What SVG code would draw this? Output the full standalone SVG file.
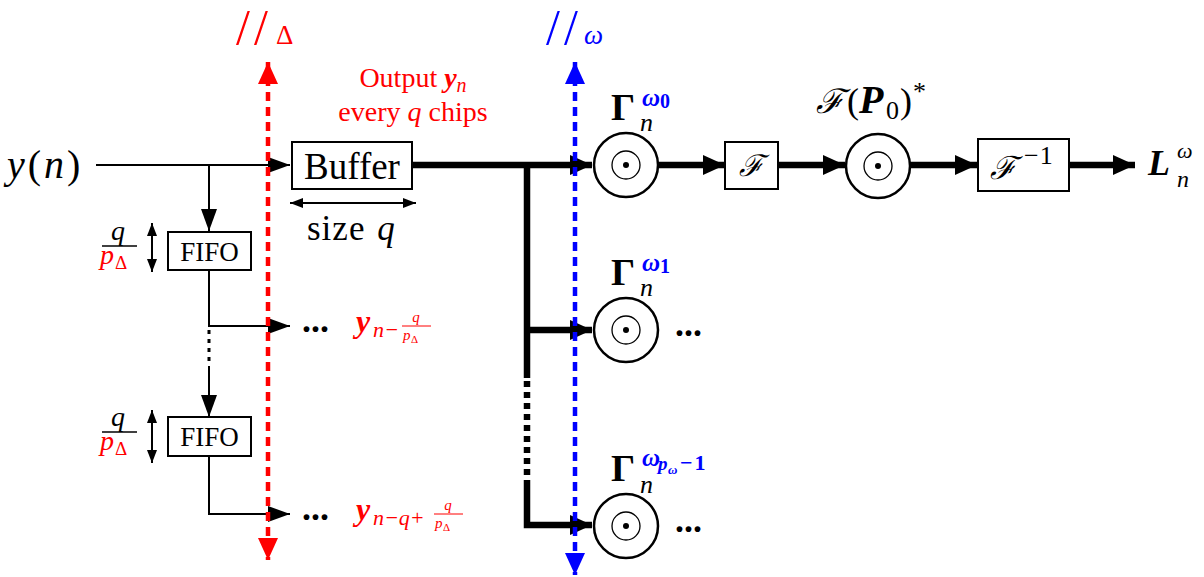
<svg xmlns="http://www.w3.org/2000/svg" width="1204" height="577" viewBox="0 0 1204 577">
<style>
.t{font-family:"Liberation Serif","DejaVu Serif",serif;fill:#000}
.i{font-style:italic}
.b{font-weight:bold}
.r{fill:#ff0000}
.bl{fill:#0000ff}
.box{fill:#fff;stroke:#000;stroke-width:2}
.thin{fill:none;stroke:#000;stroke-width:2}
.thick{fill:none;stroke:#000;stroke-width:6.5}
.circ{fill:#fff;stroke:#000;stroke-width:2.5}
.dots{font-family:"Liberation Serif",serif;font-weight:bold;font-size:36px;fill:#000}
</style>
<defs>
<marker id="at" markerUnits="userSpaceOnUse" markerWidth="22" markerHeight="16" refX="22" refY="8" orient="auto"><path d="M0,0 L22,8 L0,16 z" fill="#000"/></marker>
<marker id="aT" markerUnits="userSpaceOnUse" markerWidth="22" markerHeight="20" refX="22" refY="10" orient="auto"><path d="M0,0 L22,10 L0,20 z" fill="#000"/></marker>
<marker id="as" markerUnits="userSpaceOnUse" markerWidth="13" markerHeight="10" refX="13" refY="5" orient="auto-start-reverse"><path d="M0,0 L13,5 L0,10 z" fill="#000"/></marker>
<marker id="ar" markerUnits="userSpaceOnUse" markerWidth="22" markerHeight="20" refX="22" refY="10" orient="auto-start-reverse"><path d="M0,0 L22,10 L0,20 z" fill="#ff0000"/></marker>
<marker id="ab" markerUnits="userSpaceOnUse" markerWidth="22" markerHeight="20" refX="22" refY="10" orient="auto-start-reverse"><path d="M0,0 L22,10 L0,20 z" fill="#0000ff"/></marker>
</defs>

<g id="input"><text class="t" x="7" y="178" font-size="40" letter-spacing="3"><tspan class="i">y</tspan>(<tspan class="i">n</tspan>)</text></g>

<g id="connectors">
<path class="thin" d="M96,165 H290" marker-end="url(#at)"/>
<path class="thin" d="M209,165 V231" marker-end="url(#at)"/>
<path class="thin" d="M209,270 V326 H290" marker-end="url(#at)"/>
<path d="M209,330 V366" fill="none" stroke="#000" stroke-width="3" stroke-dasharray="4,5"/>
<path class="thin" d="M209,366 V417" marker-end="url(#at)"/>
<path class="thin" d="M209,456 V514 H290" marker-end="url(#at)"/>
<path class="thin" d="M290,203 H416" marker-start="url(#as)" marker-end="url(#as)"/>
<path class="thin" d="M152,223 V272" marker-start="url(#as)" marker-end="url(#as)"/>
<path class="thin" d="M152,410 V463" marker-start="url(#as)" marker-end="url(#as)"/>
<path class="thick" d="M412,165 H592" marker-end="url(#aT)"/>
<path class="thick" d="M527,165 V378"/>
<path class="thick" d="M527,330 H592" marker-end="url(#aT)"/>
<path d="M527,381 V480" fill="none" stroke="#000" stroke-width="6.5" stroke-dasharray="6,5"/>
<path class="thick" d="M527,480 V525 H592" marker-end="url(#aT)"/>
<path class="thick" d="M658,165 H725" marker-end="url(#aT)"/>
<path class="thick" d="M778,165 H845" marker-end="url(#aT)"/>
<path class="thick" d="M910,165 H977" marker-end="url(#aT)"/>
<path class="thick" d="M1069,165 H1135" marker-end="url(#aT)"/>
</g>

<g id="buffer"><rect class="box" x="292" y="142" width="120" height="47"/><text class="t" x="352" y="179" font-size="37" text-anchor="middle">Buffer</text></g>
<g id="size"><text class="t" x="307" y="240" font-size="35" letter-spacing="1" word-spacing="2">size <tspan class="i">q</tspan></text></g>
<g id="output-label"><text class="t r" x="413" y="87" font-size="28" text-anchor="middle">Output <tspan class="b i">y</tspan><tspan class="i" font-size="20" dy="5">n</tspan></text><text class="t r" x="413" y="121" font-size="28" text-anchor="middle">every <tspan class="i">q</tspan> chips</text></g>

<g id="fifo1"><rect class="box" x="168" y="232" width="83" height="38"/><text class="t" x="209.5" y="261" font-size="27" text-anchor="middle">FIFO</text></g>
<g id="fifo2"><rect class="box" x="168" y="417" width="83" height="39"/><text class="t" x="209.5" y="446" font-size="27" text-anchor="middle">FIFO</text></g>

<g id="frac1"><text class="t i" x="118" y="240" font-size="28" text-anchor="middle">q</text><line x1="102" y1="246" x2="137" y2="246" stroke="#000" stroke-width="1.5"/><text class="t i r" x="100" y="264" font-size="28">p</text><text class="t r" x="115" y="269" font-size="19">Δ</text></g>
<g id="frac2"><text class="t i" x="118" y="426" font-size="28" text-anchor="middle">q</text><line x1="102" y1="432" x2="137" y2="432" stroke="#000" stroke-width="1.5"/><text class="t i r" x="100" y="450" font-size="28">p</text><text class="t r" x="115" y="455" font-size="19">Δ</text></g>

<g id="out1"><text class="dots" x="302" y="332">...</text><text class="t b i r" x="356" y="332" font-size="32">y</text><text class="t i r" x="373" y="337" font-size="22">n−</text><text class="t i r" x="416" y="322" font-size="15" text-anchor="middle">q</text><line x1="402" y1="326" x2="431" y2="326" stroke="#ff0000" stroke-width="1"/><text class="t i r" x="403" y="340" font-size="15">p</text><text class="t r" x="411" y="343" font-size="11">Δ</text></g>
<g id="out2"><text class="dots" x="302" y="520">...</text><text class="t b i r" x="356" y="520" font-size="32">y</text><text class="t i r" x="373" y="525" font-size="22">n−q+</text><text class="t i r" x="448" y="510" font-size="15" text-anchor="middle">q</text><line x1="434" y1="514" x2="463" y2="514" stroke="#ff0000" stroke-width="1"/><text class="t i r" x="435" y="528" font-size="15">p</text><text class="t r" x="443" y="531" font-size="11">Δ</text></g>

<g id="mult0"><circle class="circ" cx="626" cy="165" r="32"/><circle cx="626" cy="165" r="14" fill="none" stroke="#000" stroke-width="1.3"/><circle cx="626" cy="165" r="3" fill="#000"/>
<text class="t b" x="611" y="120" font-size="38">Γ</text><text class="t i" x="640" y="131" font-size="26">n</text><text class="t b i bl" x="642" y="106" font-size="25">ω<tspan font-style="normal" font-size="20" dy="2">0</tspan></text></g>
<g id="mult1"><circle class="circ" cx="626" cy="330" r="32"/><circle cx="626" cy="330" r="14" fill="none" stroke="#000" stroke-width="1.3"/><circle cx="626" cy="330" r="3" fill="#000"/>
<text class="t b" x="611" y="285" font-size="38">Γ</text><text class="t i" x="640" y="296" font-size="26">n</text><text class="t b i bl" x="642" y="271" font-size="25">ω<tspan font-style="normal" font-size="20" dy="2">1</tspan></text><text class="dots" x="675" y="336">...</text></g>
<g id="mult2"><circle class="circ" cx="626" cy="526" r="32"/><circle cx="626" cy="526" r="14" fill="none" stroke="#000" stroke-width="1.3"/><circle cx="626" cy="526" r="3" fill="#000"/>
<text class="t b" x="611" y="481" font-size="38">Γ</text><text class="t i" x="640" y="493" font-size="26">n</text><text class="t b i bl" x="642" y="466" font-size="25">ω</text><text class="t b i bl" x="658" y="470" font-size="19">p</text><text class="t b i bl" x="668" y="474" font-size="13">ω</text><text class="t b bl" x="680" y="470" font-size="22" letter-spacing="2">−1</text><text class="dots" x="675" y="532">...</text></g>

<g id="fft"><rect class="box" x="725" y="142" width="53" height="47"/><text class="t i" x="751" y="176" font-size="30" text-anchor="middle">ℱ</text></g>
<g id="mult3"><circle class="circ" cx="878" cy="166" r="32"/><circle cx="878" cy="166" r="14" fill="none" stroke="#000" stroke-width="1.3"/><circle cx="878" cy="166" r="3" fill="#000"/>
<text class="t i" x="816" y="113" font-size="34">ℱ</text><text class="t" x="847" y="113" font-size="36">(</text><text class="t b i" x="859" y="113" font-size="40">P</text><text class="t" x="886" y="119" font-size="26">0</text><text class="t" x="900" y="113" font-size="36">)</text><text class="t" x="913" y="100" font-size="26">*</text></g>
<g id="ifft"><rect class="box" x="978" y="139" width="91" height="52"/><text class="t i" x="990" y="179" font-size="32">ℱ</text><text class="t" x="1024" y="164" font-size="26" letter-spacing="1">−1</text></g>
<g id="output"><text class="t b i" x="1148" y="175" font-size="36">L</text><text class="t i" x="1177" y="158" font-size="22">ω</text><text class="t i" x="1177" y="187" font-size="24">n</text></g>

<g id="delta-line"><path d="M268,62 V560" fill="none" stroke="#ff0000" stroke-width="4.5" stroke-dasharray="9,6" marker-start="url(#ar)" marker-end="url(#ar)"/><text class="t r" x="236" y="44" font-size="50" letter-spacing="4">//</text><text class="t r" x="276" y="44" font-size="27">Δ</text></g>
<g id="omega-line"><path d="M575,62 V575" fill="none" stroke="#0000ff" stroke-width="4.5" stroke-dasharray="9,6" marker-start="url(#ab)" marker-end="url(#ab)"/><text class="t bl" x="546" y="44" font-size="50" letter-spacing="4">//</text><text class="t i bl" x="584" y="44" font-size="27">ω</text></g>
</svg>
